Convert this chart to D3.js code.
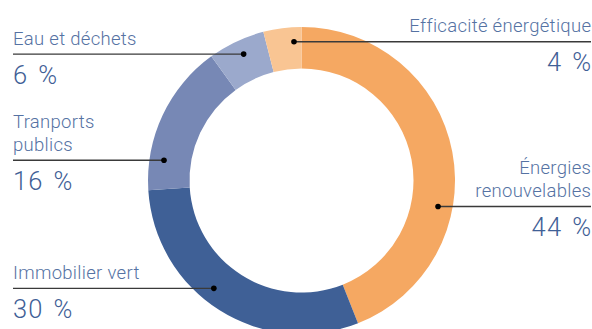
<!DOCTYPE html>
<html><head><meta charset="utf-8">
<script src="https://cdn.jsdelivr.net/npm/d3@7"></script>
<style>
html,body{margin:0;padding:0;background:#fff;}
svg{display:block;}
</style></head>
<body><svg id="c" width="592" height="329"></svg>
<script>
const categories = ["Énergies renouvelables","Immobilier vert","Tranports publics","Eau et déchets","Efficacité énergétique"];
const labelLines = [["Énergies","renouvelables"],["Immobilier vert"],["Tranports","publics"],["Eau et déchets"],["Efficacité énergétique"]];
const values = [44,30,16,6,4];
const colors = ["#F5A862","#3F6096","#7788B5","#9BA9CC","#F9C593"];
// layout: dot angle (degrees clockwise from top) and label side
const dotAngles = [100.8,219.1,278.4,335.4,356.9];
const sides = ["right","left","left","left","right"];

const W=592,H=329,cx=301.5,cy=180.5,R=153.5,r0=112,rDot=139;
const svg=d3.select("#c");
const g=svg.append("g").attr("transform",`translate(${cx},${cy})`);
const pie=d3.pie().sort(null).value(d=>d)(values);
const arc=d3.arc().innerRadius(r0).outerRadius(R);
g.selectAll("path").data(pie).join("path").attr("d",arc).attr("fill",(d,i)=>colors[i]);

const font="Roboto, 'Liberation Sans', Arial, sans-serif";
categories.forEach((c,i)=>{
  const a=dotAngles[i]*Math.PI/180;
  const dx=cx+rDot*Math.sin(a), dy=cy-rDot*Math.cos(a);
  const left=sides[i]==="left";
  const x0=left?13:591;
  svg.append("line").attr("x1",x0).attr("x2",dx).attr("y1",dy).attr("y2",dy)
    .attr("stroke","#3a3a3a").attr("stroke-width",1.4);
  svg.append("circle").attr("cx",dx).attr("cy",dy).attr("r",2.8).attr("fill","#000");
  const lines=labelLines[i];
  lines.forEach((t,k)=>{
    svg.append("text").attr("x",left?x0:x0+0.3).attr("y",dy-9.5-(lines.length-1-k)*23)
      .attr("text-anchor",left?"start":"end").attr("font-family",font).attr("font-weight",300)
      .attr("font-size",18.5).attr("letter-spacing",0.3).attr("fill","#5572A3").text(t);
  });
  svg.append("text").attr("x",left?x0:x0+1.2).attr("y",dy+29.5)
    .attr("text-anchor",left?"start":"end").attr("font-family",font).attr("font-weight",300)
    .attr("font-size",25.5).attr("letter-spacing",1.2).attr("word-spacing",2.5)
    .attr("fill","#3F6096").text(values[i]+" %");
});
</script></body></html>
